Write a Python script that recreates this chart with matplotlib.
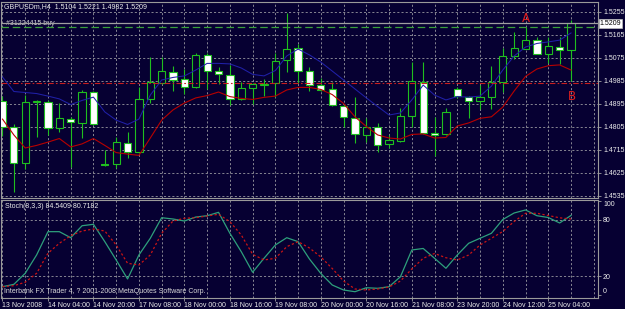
import matplotlib
matplotlib.use("Agg")
import matplotlib.pyplot as plt
import matplotlib.transforms as mtransforms
import numpy as np

# GBPUSDm H4 bars, 13 Nov 2008 12:00 .. 25 Nov 2008 12:00
opens = [1.4905, 1.4803, 1.4662, 1.4899, 1.4901, 1.4799, 1.4834, 1.4819, 1.4940, 1.4657,
         1.4658, 1.4740, 1.4705, 1.4913, 1.4976, 1.5018, 1.4991, 1.4958, 1.5086, 1.5022,
         1.5008, 1.4911, 1.4954, 1.4969, 1.4974, 1.5065, 1.5111, 1.5022, 1.4967, 1.4951,
         1.4885, 1.4837, 1.4771, 1.4804, 1.4735, 1.4749, 1.4847, 1.4980, 1.4778, 1.4774,
         1.4951, 1.4922, 1.4904, 1.4919, 1.4978, 1.5082, 1.5109, 1.5143, 1.5088, 1.5115,
         1.5104]
highs = [1.4924, 1.4815, 1.4928, 1.4907, 1.4909, 1.4898, 1.4842, 1.4946, 1.4944, 1.4713,
         1.4764, 1.4783, 1.4960, 1.5077, 1.5078, 1.5042, 1.5029, 1.5091, 1.5091, 1.5039,
         1.5046, 1.4980, 1.4975, 1.4990, 1.5091, 1.5248, 1.5128, 1.5038, 1.4994, 1.4980,
         1.4893, 1.4919, 1.4837, 1.4818, 1.4772, 1.4876, 1.5059, 1.5059, 1.4843, 1.4876,
         1.4958, 1.4924, 1.4967, 1.5042, 1.5111, 1.5174, 1.5193, 1.5156, 1.5156, 1.5156,
         1.5221]
lows = [1.4768, 1.4549, 1.4639, 1.4764, 1.4772, 1.4785, 1.4648, 1.4760, 1.4811, 1.4652,
        1.4643, 1.4682, 1.4701, 1.4898, 1.4971, 1.4945, 1.4932, 1.4956, 1.4951, 1.4971,
        1.4889, 1.4907, 1.4893, 1.4924, 1.4919, 1.5019, 1.4974, 1.4944, 1.4944, 1.4887,
        1.4804, 1.4742, 1.4746, 1.4706, 1.4720, 1.4746, 1.4804, 1.4776, 1.4690, 1.4772,
        1.4918, 1.4837, 1.4872, 1.4872, 1.4941, 1.5068, 1.5108, 1.5087, 1.5052, 1.5050,
        1.4982]
closes = [1.4803, 1.4662, 1.4901, 1.4903, 1.4799, 1.4838, 1.4823, 1.4940, 1.4815, 1.4656,
          1.4744, 1.4705, 1.4913, 1.4979, 1.5022, 1.4987, 1.4961, 1.5084, 1.5021, 1.5010,
          1.4911, 1.4954, 1.4970, 1.4971, 1.5062, 1.5107, 1.5021, 1.4967, 1.4948, 1.4889,
          1.4841, 1.4774, 1.4804, 1.4733, 1.4752, 1.4846, 1.4983, 1.4778, 1.4772, 1.4863,
          1.4924, 1.4906, 1.4919, 1.4980, 1.5081, 1.5111, 1.5143, 1.5089, 1.5120, 1.5104,
          1.5209]

fast_ma = [1.4999, 1.4942, 1.4938, 1.4934, 1.4924, 1.4913, 1.4891, 1.4907, 1.4920, 1.4862,
           1.4830, 1.4813, 1.4834, 1.4928, 1.4987, 1.4997, 1.5003, 1.5026, 1.5052, 1.5052,
           1.5050, 1.5034, 1.5009, 1.5003, 1.5024, 1.5081, 1.5108, 1.5085, 1.5057, 1.5022,
           1.4987, 1.4952, 1.4917, 1.4883, 1.4850, 1.4858, 1.4909, 1.4967, 1.4928, 1.4909,
           1.4922, 1.4920, 1.4924, 1.4963, 1.5026, 1.5081, 1.5116, 1.5130, 1.5136, 1.5143,
           1.5171]
slow_ma = [1.4834, 1.4772, 1.4721, 1.4731, 1.4744, 1.4758, 1.4725, 1.4737, 1.4758, 1.4731,
           1.4703, 1.4697, 1.4692, 1.4760, 1.4830, 1.4870, 1.4897, 1.4917, 1.4926, 1.4940,
           1.4922, 1.4915, 1.4911, 1.4919, 1.4924, 1.4948, 1.4958, 1.4958, 1.4950, 1.4930,
           1.4895, 1.4843, 1.4805, 1.4772, 1.4760, 1.4756, 1.4774, 1.4776, 1.4760, 1.4762,
           1.4807, 1.4819, 1.4837, 1.4843, 1.4881, 1.4944, 1.5001, 1.5030, 1.5043, 1.5046,
           1.5026]

stoch_main = [9.0, 11.5, 23.2, 42.6, 67.3, 67.3, 60.9, 73.6, 75.1, 56.7,
              37.3, 17.2, 42.6, 60.3, 82.1, 80.7, 78.6, 82.8, 84.2, 87.8,
              65.6, 46.1, 24.3, 39.1, 53.2, 60.9, 56.7, 38.3, 23.0, 10.8,
              5.5, 3.7, 7.9, 7.3, 9.0, 19.6, 47.9, 49.5, 39.1, 28.5,
              42.6, 55.0, 60.3, 65.6, 80.2, 87.1, 90.3, 84.2, 82.3, 76.5,
              84.5]
stoch_signal = [9.0, 10.1, 13.7, 23.2, 44.4, 55.0, 63.0, 68.0, 70.1, 68.0,
                53.2, 33.8, 32.0, 42.6, 65.6, 78.6, 81.5, 82.1, 83.9, 85.7,
                77.9, 63.8, 43.3, 37.3, 39.1, 51.4, 56.7, 50.0, 40.5, 28.3,
                15.0, 6.6, 5.5, 6.6, 8.7, 15.0, 27.8, 39.1, 44.2, 39.7,
                37.3, 42.6, 53.2, 60.3, 67.5, 78.1, 86.8, 86.8, 84.4, 82.0,
                80.7]

date_labels = ["13 Nov 2008", "14 Nov 04:00", "14 Nov 20:00", "17 Nov 08:00",
               "18 Nov 00:00", "18 Nov 16:00", "19 Nov 08:00", "20 Nov 00:00",
               "20 Nov 16:00", "21 Nov 08:00", "23 Nov 20:00", "24 Nov 12:00",
               "25 Nov 04:00"]
date_bars = [0, 4, 8, 12, 16, 20, 24, 28, 32, 36, 40, 44, 48]
price_ticks = [1.5255, 1.5165, 1.5075, 1.4985, 1.4895, 1.4805, 1.4715, 1.4625, 1.4535]
stoch_levels = [0, 20, 80, 100]

bid_price = 1.5209
order_price = 1.5196
stop_price = 1.4976

BG = '#060032'
GRID = '#9a9aa0'
GREEN = '#1fbf1f'
TXT = '#ececec'
FONT = 'Liberation Sans'
FS = 5.0

plt.rcParams['font.family'] = [FONT, 'DejaVu Sans']

W, H = 625, 309
fig = plt.figure(figsize=(W / 100, H / 100), dpi=100, facecolor=BG)


def px_axes(x0, y0, x1, y1):
    return fig.add_axes([x0 / W, 1 - y1 / H, (x1 - x0) / W, (y1 - y0) / H])


x = np.arange(len(opens))
o = np.array(opens)
c = np.array(closes)

# ---- price window
ax = px_axes(1, 2, 597.5, 197.5)
ax.set_facecolor(BG)
ax.set_xlim(-0.13, 52.33)
ax.set_ylim(1.45272, 1.52922)

for g in range(0, 53, 2):
    ax.axvline(g, color=GRID, lw=0.6, dashes=(2.5, 2.5), zorder=1)
for p in price_ticks:
    ax.axhline(p, color=GRID, lw=0.6, dashes=(2.5, 2.5), zorder=1)

ax.vlines(x, lows, highs, color=GREEN, lw=0.8, zorder=2)
bull = c >= o
ax.bar(x, np.abs(c - o), bottom=np.minimum(o, c), width=0.64,
       color=[BG if b else 'white' for b in bull], edgecolor=GREEN,
       linewidth=0.8, zorder=3)

ax.plot(x, fast_ma, color='#2020a8', lw=0.75, zorder=4)
ax.plot(x, slow_ma, color='#b80000', lw=0.8, zorder=4)

ax.axhline(bid_price, color='#a0a0a0', lw=0.9, zorder=5)
ax.axhline(order_price, color='#3aa03a', lw=0.9, dashes=(6, 3), zorder=5)
ax.axhline(stop_price, color='#c81e1e', lw=0.8, dashes=(5, 2, 1.5, 2), zorder=5)

ax.text(46, 1.5228, 'A', color='#e01e1e', fontsize=8.5, ha='center', va='center',
        family='DejaVu Sans', zorder=6)
ax.text(50.05, 1.4922, 'B', color='#e01e1e', fontsize=8.5, ha='center', va='center',
        family='DejaVu Sans', zorder=6)

ax.text(3 / 596.5, 1 - 5 / 195.5, "GBPUSDm,H4  1.5104 1.5221 1.4982 1.5209",
        transform=ax.transAxes, color=TXT, fontsize=FS, ha='left', va='center')
trans = mtransforms.blended_transform_factory(ax.transAxes, ax.transData)
ax.text(5 / 596.5, order_price, "#31224415 buy", transform=trans, color='#d8d8d8',
        fontsize=FS, ha='left', va='bottom')

ax.set_xticks([])
ax.yaxis.tick_right()
ax.set_yticks(price_ticks)
ax.set_yticklabels(["%.4f" % p for p in price_ticks])
ax.tick_params(axis='y', colors='#a0a0a0', labelcolor=TXT, labelsize=FS,
               length=2.5, width=0.6, pad=1.5)
ax.text(1.004, bid_price, "%.4f" % bid_price, transform=trans, color='black',
        fontsize=FS, ha='left', va='center', clip_on=False,
        bbox=dict(facecolor='white', edgecolor='#c0c0c0', pad=0.7, lw=0.5))
for s in ax.spines.values():
    s.set_color('#9a9a9a')
    s.set_linewidth(0.8)

# ---- stochastic window
sx = px_axes(1, 200, 597.5, 297.5)
sx.set_facecolor(BG)
sx.set_xlim(-0.13, 52.33)
sx.set_ylim(-2.44, 100.85)
for g in range(0, 53, 2):
    sx.axvline(g, color=GRID, lw=0.6, dashes=(2.5, 2.5), zorder=1)
for lv in (20, 80):
    sx.axhline(lv, color=GRID, lw=0.6, dashes=(2.5, 2.5), zorder=1)

sx.plot(x, stoch_main, color='#2ea07c', lw=0.9, zorder=3)
sx.plot(x, stoch_signal, color='#cc1414', lw=0.9, dashes=(1.8, 1.8), zorder=3)

sx.text(4 / 596.5, 1 - 7 / 97.5, "Stoch(8,3,3) 84.5409 80.7182", transform=sx.transAxes,
        color=TXT, fontsize=FS, ha='left', va='center')
sx.text(3 / 596.5, 1 - 91.5 / 97.5,
        "Interbank FX Trader 4, ? 2001-2008 MetaQuotes Software Corp.",
        transform=sx.transAxes, color='#d8d8d8', fontsize=FS, ha='left', va='center')

sx.yaxis.tick_right()
sx.set_yticks(stoch_levels)
sx.set_yticklabels([str(v) for v in stoch_levels])
sx.tick_params(axis='y', colors='#a0a0a0', labelcolor=TXT, labelsize=FS,
               length=2.5, width=0.6, pad=1.5)
ylabels = sx.get_yticklabels()
ylabels[0].set_va('bottom')
ylabels[-1].set_va('top')

sx.set_xticks(date_bars)
sx.set_xticklabels(date_labels)
sx.tick_params(axis='x', colors='#a0a0a0', labelcolor=TXT, labelsize=FS,
               length=2.5, width=0.6, pad=1.0)
for lab in sx.get_xticklabels():
    lab.set_ha('left')
for s in sx.spines.values():
    s.set_color('#9a9a9a')
    s.set_linewidth(0.8)

fig.savefig('out.png', dpi=100, facecolor=BG)
